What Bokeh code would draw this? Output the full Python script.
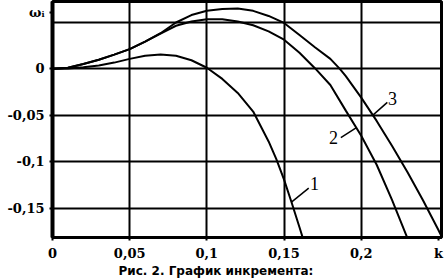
from bokeh.plotting import figure
from bokeh.models import Range1d, FixedTicker, CustomJSTickFormatter, Title
from bokeh.core.properties import value
from bokeh.embed import file_html
from bokeh.resources import INLINE

# ---- data ----
K1 = [0, 0.01, 0.02, 0.03, 0.04, 0.05, 0.06, 0.07, 0.08, 0.09, 0.10, 0.11,
      0.12, 0.13, 0.14, 0.145, 0.15, 0.155, 0.16, 0.163]
W1 = [0, 0.0003, 0.0015, 0.0035, 0.0065, 0.0105, 0.0138, 0.0152, 0.0138,
      0.009, 0.001, -0.011, -0.026, -0.046, -0.078, -0.097, -0.119, -0.144,
      -0.170, -0.186]

K2 = [0, 0.01, 0.02, 0.03, 0.04, 0.05, 0.06, 0.07, 0.08, 0.09, 0.10, 0.11,
      0.12, 0.13, 0.14, 0.15, 0.16, 0.17, 0.18, 0.19, 0.20, 0.21, 0.22, 0.23]
W2 = [0, 0.001, 0.005, 0.0095, 0.015, 0.021, 0.029, 0.0375, 0.046, 0.0505,
      0.053, 0.053, 0.0505, 0.0465, 0.040, 0.031, 0.017, 0.0005, -0.0175,
      -0.045, -0.072, -0.103, -0.141, -0.182]

K3 = [0, 0.01, 0.02, 0.03, 0.04, 0.05, 0.06, 0.07, 0.08, 0.09, 0.10, 0.11,
      0.12, 0.13, 0.14, 0.15, 0.16, 0.17, 0.18, 0.186, 0.19, 0.20, 0.21,
      0.22, 0.23, 0.24, 0.25, 0.253]
W3 = [0, 0.001, 0.005, 0.0095, 0.015, 0.021, 0.029, 0.038, 0.0495, 0.0575,
      0.062, 0.064, 0.0645, 0.062, 0.0565, 0.049, 0.036, 0.023, 0.0105, 0.0,
      -0.008, -0.031, -0.056, -0.083, -0.111, -0.141, -0.173, -0.183]

X_TICKS = [0, 0.05, 0.1, 0.15, 0.2, 0.25]
X_TICK_LABELS = ["0", "0,05", "0,1", "0,15", "0,2", "k"]
Y_TICKS = [-0.15, -0.1, -0.05, 0, 0.06]
Y_TICK_LABELS = ["-0,15", "-0,1", "-0,05", "0", "ωᵢ"]
X_GRID = [0.05, 0.1, 0.15, 0.2]
Y_GRID = [-0.15, -0.1, -0.05, 0, 0.05]
X_MIN, X_MAX = 0, 0.252
Y_MIN, Y_MAX = -0.181, 0.072

CURVE_NAMES = ["1", "2", "3"]
NAME_K = [0.1697, 0.182, 0.2202]
NAME_W = [-0.1234, -0.074, -0.0322]
LEAD_K0 = [0.1548, 0.1868, 0.2072]
LEAD_W0 = [-0.143, -0.074, -0.0504]
LEAD_K1 = [0.166, 0.1969, 0.2169]
LEAD_W1 = [-0.128, -0.0633, -0.0362]

CAPTION = "Рис. 2. График инкремента:"

p = figure(width=444, height=280, x_range=Range1d(X_MIN, X_MAX),
           y_range=Range1d(Y_MIN, Y_MAX), output_backend="svg",
           toolbar_location=None, min_border_left=52, min_border_right=3,
           min_border_top=1, min_border_bottom=43)
p.background_fill_color = "white"
p.border_fill_color = "white"
p.outline_line_color = "black"
p.outline_line_width = 3

code = "const i = vals.indexOf(tick); return i >= 0 ? labs[i] : '';"
p.xaxis.formatter = CustomJSTickFormatter(args=dict(vals=X_TICKS, labs=X_TICK_LABELS), code=code)
p.yaxis.formatter = CustomJSTickFormatter(args=dict(vals=Y_TICKS, labs=Y_TICK_LABELS), code=code)
for ax in (p.xaxis[0], p.yaxis[0]):
    ax.major_tick_out = 3
    ax.major_tick_in = 0
    ax.minor_tick_line_color = None
    ax.major_tick_line_color = "black"
    ax.major_tick_line_width = 2
    ax.axis_line_color = "black"
    ax.major_label_text_font = "DejaVu Serif"
    ax.major_label_text_font_style = "bold"
    ax.major_label_text_font_size = "13px"
    ax.major_label_text_color = "black"
    ax.major_label_standoff = 5
p.xaxis.ticker = FixedTicker(ticks=X_TICKS)
p.yaxis.ticker = FixedTicker(ticks=Y_TICKS)
p.xaxis.axis_line_width = 3
p.yaxis.axis_line_width = 4

p.xgrid.ticker = FixedTicker(ticks=X_GRID)
p.ygrid.ticker = FixedTicker(ticks=Y_GRID)
for g in (p.xgrid[0], p.ygrid[0]):
    g.grid_line_color = "black"
    g.grid_line_width = 2
    g.grid_line_alpha = 1.0

for K, W in ((K1, W1), (K2, W2), (K3, W3)):
    p.line(K, W, line_color="black", line_width=2)

p.segment(x0=LEAD_K0, y0=LEAD_W0, x1=LEAD_K1, y1=LEAD_W1,
          line_color="black", line_width=1.5)
p.text(x=NAME_K, y=NAME_W, text=CURVE_NAMES, text_align="center",
       text_baseline="middle", text_font_size="18px",
       text_font=value("Liberation Serif"), text_color="black")

cap = Title(text=CAPTION, align="left", offset=66, standoff=0,
            vertical_align="top",
            text_font="DejaVu Sans", text_font_style="bold",
            text_font_size="12px", text_color="black")
p.add_layout(cap, "below")

open("out.html", "w").write(file_html(p, INLINE))
